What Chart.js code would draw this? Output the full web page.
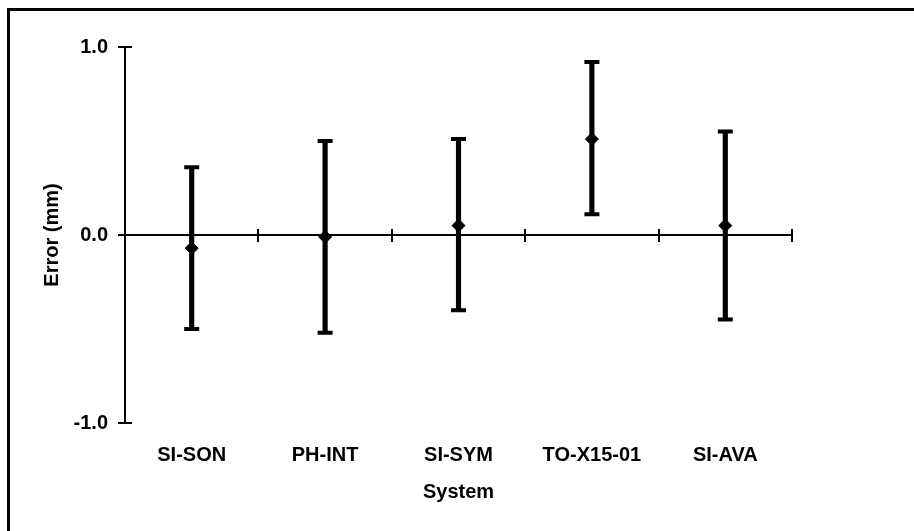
<!DOCTYPE html>
<html>
<head>
<meta charset="utf-8">
<script src="https://cdn.jsdelivr.net/npm/chart.js@4.4.1/dist/chart.umd.min.js"></script>
<style>
  html, body { margin: 0; padding: 0; background: #fff; }
  #frame {
    position: absolute; left: 7px; top: 8px; width: 920px; height: 540px;
    border-top: 3px solid #000; border-left: 3px solid #000;
  }
  #wrap { position: absolute; left: 0; top: 0; width: 914px; height: 531px; }
</style>
</head>
<body>
<div id="frame"></div>
<div id="wrap"><canvas id="chart-error"></canvas></div>
<script>
// Mean measurement error per system, with error bar limits (mm)
const systems = ['SI-SON', 'PH-INT', 'SI-SYM', 'TO-X15-01', 'SI-AVA'];
const meanError = [-0.07, -0.01, 0.05, 0.51, 0.05];
const upperLimit = [0.36, 0.50, 0.51, 0.92, 0.55];
const lowerLimit = [-0.50, -0.52, -0.40, 0.11, -0.45];
const yTicks = [-1, 0, 1];

Chart.defaults.color = '#000';
Chart.defaults.font.family = "'Liberation Sans', Arial, sans-serif";
Chart.defaults.font.weight = 'bold';
Chart.defaults.font.size = 20;

// Axis marks that cross the axis lines (ticks on both sides)
const crossTicks = {
  id: 'crossTicks',
  beforeDatasetsDraw(chart) {
    const { ctx, scales: { x, y } } = chart;
    const y0 = y.getPixelForValue(0);
    ctx.save();
    ctx.strokeStyle = '#000';
    ctx.lineWidth = 2;
    ctx.beginPath();
    for (let i = 0; i <= systems.length; i++) {
      const px = Math.round(x.getPixelForValue(i - 0.5));
      ctx.moveTo(px, y0 - 6);
      ctx.lineTo(px, y0 + 7);
    }
    yTicks.forEach(v => {
      const py = Math.round(y.getPixelForValue(v));
      ctx.moveTo(y.right - 7, py);
      ctx.lineTo(y.right + 7, py);
    });
    ctx.stroke();
    ctx.restore();
  }
};

new Chart(document.getElementById('chart-error'), {
  type: 'bar',
  data: {
    labels: systems,
    datasets: [
      {
        type: 'line',
        data: meanError,
        showLine: false,
        pointStyle: 'rectRot',
        pointRadius: 6.5,
        pointBackgroundColor: '#000',
        pointBorderColor: '#000',
        pointBorderWidth: 1,
        order: 0
      },
      {
        type: 'line',
        data: upperLimit,
        showLine: false,
        pointStyle: 'line',
        pointRadius: 7.5,
        pointBorderColor: '#000',
        pointBorderWidth: 4,
        order: 1
      },
      {
        type: 'line',
        data: lowerLimit,
        showLine: false,
        pointStyle: 'line',
        pointRadius: 7.5,
        pointBorderColor: '#000',
        pointBorderWidth: 4,
        order: 1
      },
      {
        data: lowerLimit.map((lo, i) => [lo, upperLimit[i]]),
        backgroundColor: '#000',
        barThickness: 4.5,
        order: 2
      }
    ]
  },
  options: {
    responsive: true,
    maintainAspectRatio: false,
    animation: false,
    layout: { padding: { top: 47, right: 122, bottom: 0, left: 0 } },
    plugins: {
      legend: { display: false },
      tooltip: { enabled: false }
    },
    scales: {
      x: {
        border: { display: false },
        grid: { display: false },
        ticks: { padding: 12, autoSkip: false, maxRotation: 0 },
        title: { display: true, text: 'System', padding: { top: 0, bottom: 27 } },
        afterFit: s => { s.height = 108; }
      },
      y: {
        min: -1,
        max: 1,
        border: { display: true, color: '#000', width: 2 },
        grid: {
          drawTicks: false,
          lineWidth: 2,
          color: c => (c.tick && c.tick.value === 0 ? '#000' : 'rgba(0,0,0,0)')
        },
        afterBuildTicks: s => { s.ticks = yTicks.map(v => ({ value: v })); },
        ticks: { padding: 17, callback: v => v.toFixed(1) },
        title: { display: true, text: 'Error (mm)', padding: { top: 40, bottom: 0 } },
        afterFit: s => { s.width = 125; }
      }
    }
  },
  plugins: [crossTicks]
});
</script>
</body>
</html>
